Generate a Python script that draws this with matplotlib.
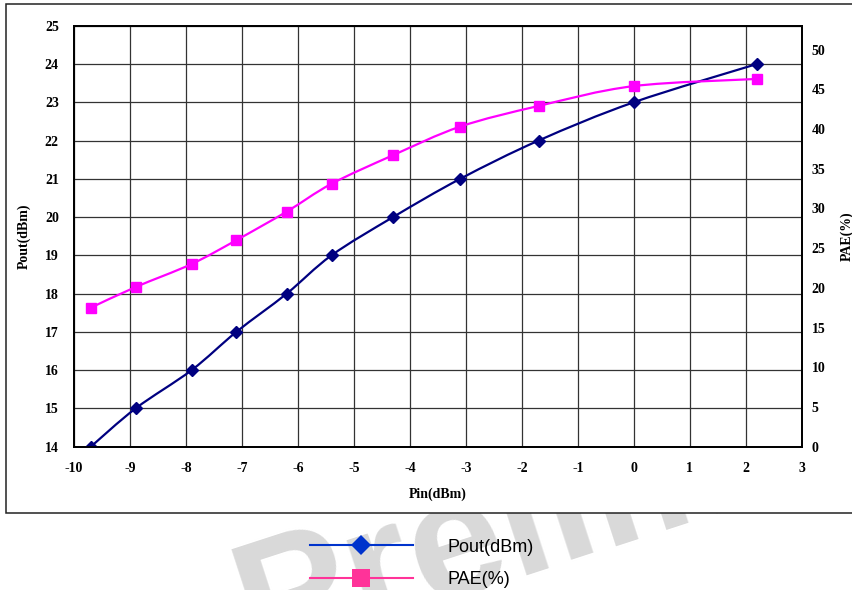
# -*- coding: utf-8 -*-
"""
Pout / PAE gegen Pin  (Excel-Diagramm nachgebaut)
"""
import numpy as np
import matplotlib
matplotlib.use('Agg')
import matplotlib.pyplot as plt
from matplotlib.path import Path
from matplotlib.patches import PathPatch, Rectangle
from matplotlib.lines import Line2D

plt.rcParams['axes.unicode_minus'] = False

# Messwerte
pin = [-9.7, -8.9, -7.9, -7.1, -6.2, -5.4, -4.3, -3.1, -1.7, 0.0, 2.2]
pout = [14, 15, 16, 17, 18, 19, 20, 21, 22, 23, 24]
pae = [17.5, 20.1, 23.0, 26.0, 29.6, 33.1, 36.7, 40.3, 42.9, 45.4, 46.3]

xticks = list(range(-10, 4))
yticks_l = list(range(14, 26))
yticks_r = list(range(0, 55, 5))

serif = 'Liberation Serif'
sans = 'Liberation Sans'


def smooth(x, y):
    # Bezier wie Excel "geglaettete Linie"
    n = len(x)
    verts = [(x[0], y[0])]
    codes = [Path.MOVETO]
    for i in range(n - 1):
        a = max(i - 1, 0)
        b = min(i + 2, n - 1)
        c1 = (x[i] + (x[i + 1] - x[a]) / 6, y[i] + (y[i + 1] - y[a]) / 6)
        c2 = (x[i + 1] - (x[b] - x[i]) / 6, y[i + 1] - (y[b] - y[i]) / 6)
        verts += [c1, c2, (x[i + 1], y[i + 1])]
        codes += [Path.CURVE4] * 3
    return Path(verts, codes)


fig = plt.figure(figsize=(8.53, 5.90), dpi=100)

# Wasserzeichen + Rahmen
fig.text(0.30, -0.118, 'Preliminary', rotation=18, rotation_mode='anchor',
         fontsize=122, fontweight='bold', family=sans, color='#d9d9d9',
         ha='left', va='baseline', zorder=-3)
fig.add_artist(Rectangle((0.007, 0.1305), 1.1, 0.8627, transform=fig.transFigure,
                         facecolor='white', edgecolor='#222222', lw=1.1, zorder=-2))

ax = fig.add_axes([0.0868, 0.2429, 0.8531, 0.7135])
ax2 = ax.twinx()

# Pout
ax.add_patch(PathPatch(smooth(pin, pout), fill=False, edgecolor='#000080', lw=1.6, zorder=3))
ax.plot(pin, pout, ls='none', marker='D', ms=6, color='#000080', zorder=4)

# PAE
ax2.add_patch(PathPatch(smooth(pin, pae), fill=False, edgecolor='#ff00ff', lw=1.6, zorder=3))
ax2.plot(pin, pae, ls='none', marker='s', ms=7.5, color='#ff00ff', zorder=4)

ax.set_xlim(-10, 3)
ax.set_ylim(14, 25)
ax2.set_ylim(0, 53)
ax.set_xticks(xticks)
ax.set_yticks(yticks_l)
ax2.set_yticks(yticks_r)

ax.grid(True, color='#333333', lw=0.9)
ax.set_axisbelow(True)
for s in ax.spines.values():
    s.set_linewidth(1.3)
for s in ax2.spines.values():
    s.set_linewidth(1.3)

ax.tick_params(axis='both', length=0, labelsize=10)
ax.tick_params(axis='y', pad=11)
ax.tick_params(axis='x', pad=11)
ax2.tick_params(axis='y', length=0, labelsize=10, pad=7)
for lab in ax.get_xticklabels() + ax.get_yticklabels() + ax2.get_yticklabels():
    lab.set_family(serif)
    lab.set_fontweight('bold')

ax.set_xlabel('Pin(dBm)', family=serif, fontweight='bold', fontsize=10, labelpad=9)
ax.set_ylabel('Pout(dBm)', family=serif, fontweight='bold', fontsize=10, labelpad=10)
ax2.set_ylabel('PAE(%)', family=serif, fontweight='bold', fontsize=10, labelpad=11)

# Legende
handles = [Line2D([], [], color='#0033cc', lw=1.5, marker='D', ms=10, markeredgewidth=0),
           Line2D([], [], color='#ff3399', lw=1.5, marker='s', ms=13.5, markeredgewidth=0)]
fig.legend(handles, ['Pout(dBm)', 'PAE(%)'], loc='upper left',
           bbox_to_anchor=(0.3634, 0.087), frameon=False, borderpad=0,
           borderaxespad=0, handlelength=5.7, handletextpad=1.9,
           labelspacing=0.85, prop={'family': sans, 'size': 13})

fig.savefig('out.png', dpi=100)
